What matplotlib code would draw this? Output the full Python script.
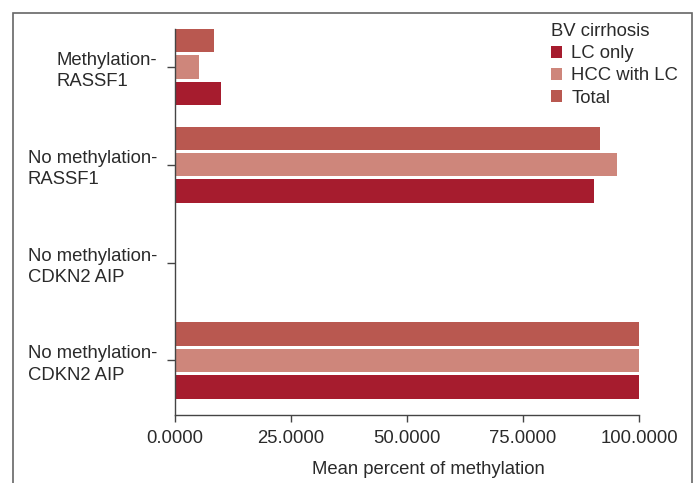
import matplotlib
matplotlib.use("Agg")
import matplotlib.pyplot as plt
from matplotlib.patches import Patch, Rectangle

categories = ["Methylation-\nRASSF1", "No methylation-\nRASSF1",
              "No methylation-\nCDKN2 AIP", "No methylation-\nCDKN2 AIP"]
lc_only = [9.9, 90.3, 0.0, 100.0]
hcc_with_lc = [5.2, 95.2, 0.0, 100.0]
total = [8.5, 91.7, 0.0, 100.0]
series_names = ["LC only", "HCC with LC", "Total"]
colors = ["#A61C2E", "#CE867B", "#B95850"]
xticks = [0, 25, 50, 75, 100]
xtick_labels = ["0.0000", "25.0000", "50.0000", "75.0000", "100.0000"]

plt.rcParams['font.family'] = ['Liberation Sans', 'DejaVu Sans']
txt = "#2a2a2a"

fig = plt.figure(figsize=(6.96, 4.83), dpi=100)
ax = fig.add_axes([175/696, (483-415)/483, 464/696, 386/483])

n = len(categories)
ypos = [n - 1 - i for i in range(n)]
h = 0.24
step = 0.27
ax.barh([y - step for y in ypos], lc_only, height=h, color=colors[0], zorder=2)
ax.barh(ypos, hcc_with_lc, height=h, color=colors[1], zorder=2)
ax.barh([y + step for y in ypos], total, height=h, color=colors[2], zorder=2)

ax.set_xlim(0, 100)
ax.set_ylim(-0.557, 3.387)
ax.set_yticks(ypos)
ax.set_yticklabels(categories, fontsize=13.3, color=txt)
for lab in ax.get_yticklabels():
    lab.set_multialignment('left')
    lab.set_linespacing(1.35)
ax.set_xticks(xticks)
ax.set_xticklabels(xtick_labels, fontsize=13.3, color=txt)
ax.tick_params(axis='y', length=6, width=1, color="#444444", pad=7)
ax.tick_params(axis='x', length=5, width=1, color="#444444", pad=6)
for s in ['top', 'right']:
    ax.spines[s].set_visible(False)
for s in ['left', 'bottom']:
    ax.spines[s].set_color("#444444")
    ax.spines[s].set_linewidth(1)
    ax.spines[s].set_zorder(3)

ax.set_xlabel("Mean percent of methylation", fontsize=13.3, color=txt)
ax.xaxis.set_label_coords((428-175)/464, -(469-415)/386, transform=ax.transAxes)
ax.xaxis.label.set_va('center')

handles = [Patch(facecolor=c, edgecolor='none') for c in colors]
leg = fig.legend(handles, series_names, title="BV cirrhosis", loc='upper left',
                 bbox_to_anchor=(551/696, 1 - 23/483), frameon=False,
                 fontsize=13.3, title_fontsize=13.3, handlelength=0.6,
                 handleheight=0.6, handletextpad=0.5, labelspacing=0.28,
                 borderpad=0, borderaxespad=0, alignment='left')
for t in leg.get_texts():
    t.set_color(txt)
leg.get_title().set_color(txt)

fig.patches.append(Rectangle((13/696, -0.1), (692-13)/696, 1.1 - 13/483,
                             transform=fig.transFigure, fill=False,
                             edgecolor="#666666", linewidth=1.2, clip_on=False))

fig.savefig("out.png", dpi=100)
